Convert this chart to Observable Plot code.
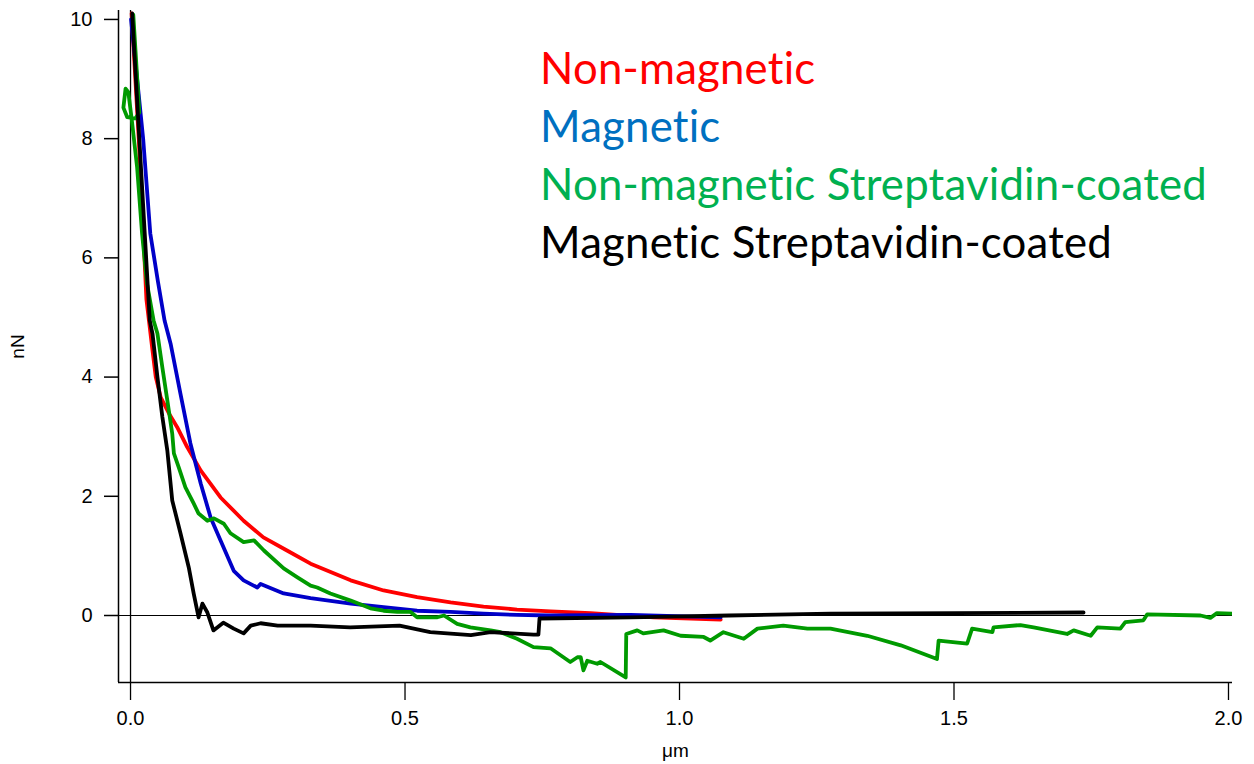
<!DOCTYPE html>
<html>
<head>
<meta charset="utf-8">
<script src="https://cdn.jsdelivr.net/npm/d3@7"></script>
<script src="https://cdn.jsdelivr.net/npm/@observablehq/plot@0.6"></script>
<style>
  html, body { margin: 0; padding: 0; background: #fff; }
  #wrap { position: relative; width: 1254px; height: 764px; }
  #legend { position: absolute; left: 0; top: 0; pointer-events: none; }
</style>
</head>
<body>
<div id="wrap"></div>
<script>
// ---- Data (distance in µm, force in nN) ----
const seriesNames = ["Non-magnetic", "Magnetic", "Non-magnetic Streptavidin-coated", "Magnetic Streptavidin-coated"];
const lineColors = ["#ff0000", "#0000c8", "#009a00", "#000000"];
const legendColors = ["#ff0000", "#0070c0", "#00b050", "#000000"];

const nonMagnetic = [
  [0.002,10.1],[0.015,8.0],[0.029,5.3],[0.040,4.45],[0.046,4.0],[0.055,3.66],[0.070,3.39],
  [0.085,3.16],[0.103,2.83],[0.128,2.43],[0.164,1.98],[0.206,1.59],[0.242,1.31],[0.285,1.09],
  [0.328,0.87],[0.401,0.59],[0.461,0.42],[0.522,0.31],[0.583,0.22],[0.643,0.15],[0.704,0.10],
  [0.765,0.07],[0.838,0.04],[0.953,-0.03],[1.075,-0.07]
];
const magnetic = [
  [0.001,10.0],[0.012,9.0],[0.023,8.0],[0.036,6.41],[0.050,5.6],[0.062,4.95],[0.073,4.56],[0.091,3.72],[0.109,2.89],
  [0.128,2.21],[0.146,1.64],[0.164,1.26],[0.188,0.75],[0.206,0.59],[0.231,0.47],[0.237,0.53],
  [0.279,0.37],[0.328,0.29],[0.401,0.20],[0.461,0.14],[0.522,0.08],[0.583,0.06],[0.643,0.03],
  [0.704,0.01],[0.765,0.0],[0.911,0.01],[1.075,-0.03]
];
const nonMagneticStrep = [
  [0.005,10.08],[0.016,8.44],[0.009,8.34],[-0.006,8.36],[-0.013,8.52],[-0.009,8.84],[-0.004,8.78],
  [0.002,8.34],[0.012,7.52],[0.021,6.41],[0.030,5.57],[0.042,4.95],[0.049,4.73],[0.058,4.16],
  [0.067,3.61],[0.076,3.05],[0.079,2.72],[0.088,2.48],[0.100,2.15],[0.115,1.88],[0.124,1.71],
  [0.140,1.59],[0.152,1.63],[0.170,1.54],[0.182,1.38],[0.206,1.23],[0.225,1.26],[0.243,1.09],
  [0.279,0.79],[0.304,0.64],[0.328,0.50],[0.340,0.47],[0.364,0.37],[0.401,0.25],[0.437,0.12],
  [0.461,0.08],[0.486,0.06],[0.510,0.06],[0.522,-0.03],[0.559,-0.03],[0.571,0.0],[0.595,-0.14],
  [0.619,-0.20],[0.656,-0.25],[0.674,-0.28],[0.704,-0.39],[0.734,-0.53],[0.765,-0.55],[0.801,-0.78],
  [0.814,-0.70],[0.820,-0.70],[0.825,-0.92],[0.832,-0.76],[0.850,-0.81],[0.856,-0.78],[0.902,-1.04],
  [0.903,-0.31],[0.923,-0.25],[0.934,-0.30],[0.971,-0.25],[1.002,-0.34],[1.044,-0.36],[1.056,-0.42],
  [1.080,-0.28],[1.117,-0.39],[1.142,-0.22],[1.189,-0.17],[1.233,-0.22],[1.275,-0.22],[1.342,-0.34],
  [1.403,-0.50],[1.469,-0.73],[1.472,-0.42],[1.524,-0.47],[1.533,-0.22],[1.570,-0.28],[1.572,-0.20],
  [1.621,-0.16],[1.645,-0.20],[1.706,-0.31],[1.718,-0.25],[1.749,-0.34],[1.761,-0.20],[1.803,-0.22],
  [1.812,-0.11],[1.845,-0.08],[1.852,0.02],[1.949,0.0],[1.967,-0.04],[1.979,0.04],[2.007,0.03]
];
const magneticStrep = [
  [0.003,10.1],[0.016,8.0],[0.035,4.95],[0.040,4.73],[0.049,4.0],[0.058,3.33],[0.067,2.77],
  [0.076,1.93],[0.091,1.38],[0.106,0.81],[0.115,0.37],[0.124,-0.03],[0.131,0.2],[0.140,0.05],
  [0.151,-0.25],[0.169,-0.12],[0.188,-0.22],[0.206,-0.30],[0.219,-0.17],[0.237,-0.13],[0.268,-0.17],
  [0.328,-0.17],[0.40,-0.2],[0.49,-0.17],[0.546,-0.28],[0.62,-0.33],[0.656,-0.28],[0.734,-0.32],
  [0.743,-0.32],[0.745,-0.05],[0.91,-0.03],[1.09,0.0],[1.275,0.03],[1.736,0.05]
];

const xTicks = [0, 0.5, 1.0, 1.5, 2.0];
const yTicks = [0, 2, 4, 6, 8, 10];
const xDomain = [-0.0219, 2.0073];
const yDomain = [-1.124, 10.15];

const allSeries = [nonMagnetic, magnetic, nonMagneticStrep, magneticStrep];
const table = allSeries.flatMap((pts, i) => pts.map(([x, y]) => ({x, y, series: seriesNames[i]})));

const chart = Plot.plot({
  width: 1254,
  height: 764,
  marginLeft: 118,
  marginRight: 22,
  marginTop: 10,
  marginBottom: 82,
  style: {fontFamily: "'Liberation Sans', Arial, sans-serif", fontSize: "20px", color: "#000", background: "#fff"},
  x: {domain: xDomain},
  y: {domain: yDomain},
  color: {domain: seriesNames, range: lineColors},
  marks: [
    Plot.ruleY([0], {stroke: "#000", strokeWidth: 1}),
    Plot.ruleX([0], {stroke: "#000", strokeWidth: 1.3}),
    Plot.line(table, {x: "x", y: "y", z: "series", stroke: "series", strokeWidth: 3.8, curve: "linear", strokeLinejoin: "round", clip: true}),
    Plot.ruleX([xDomain[0]], {stroke: "#000", strokeWidth: 1.5}),
    Plot.ruleY([yDomain[0]], {stroke: "#000", strokeWidth: 1.5}),
    Plot.axisY({ticks: yTicks, tickSize: 14, tickPadding: 12, stroke: "#000", strokeWidth: 1.5, fontSize: 20,
      label: null}),
    Plot.axisY({ticks: [], label: "nN", labelAnchor: "center", labelOffset: 108, labelArrow: "none", fontSize: 19}),
    Plot.axisX({ticks: xTicks, tickFormat: d3.format(".1f"), tickSize: 18, tickPadding: 10, stroke: "#000", strokeWidth: 1.3, fontSize: 20,
      label: null}),
    Plot.axisX({ticks: [], label: "μm", labelAnchor: "center", labelOffset: 74, labelArrow: "none", fontSize: 19})
  ]
});
document.getElementById("wrap").appendChild(chart);

// ---- Legend overlay (coloured text lines) ----
const legendFont = "Lato, 'Open Sans', sans-serif";
const svg = d3.select("#wrap").append("svg").attr("id", "legend").attr("width", 1254).attr("height", 764);
const texts = svg.selectAll("text").data(seriesNames).join("text")
  .attr("x", 540)
  .attr("y", (d, i) => 84 + i * 58)
  .attr("fill", (d, i) => legendColors[i])
  .attr("style", "font-family: " + legendFont + "; font-size: 44px; font-variant-ligatures: none; font-feature-settings: 'liga' 0, 'clig' 0, 'dlig' 0; letter-spacing: 0.2px;")
  .text(d => d);
// fit widest line to the reference width
const w = texts.nodes()[2].getComputedTextLength();
const fs = 44 * 667 / w;
texts.style("font-size", fs + "px");
</script>
</body>
</html>
